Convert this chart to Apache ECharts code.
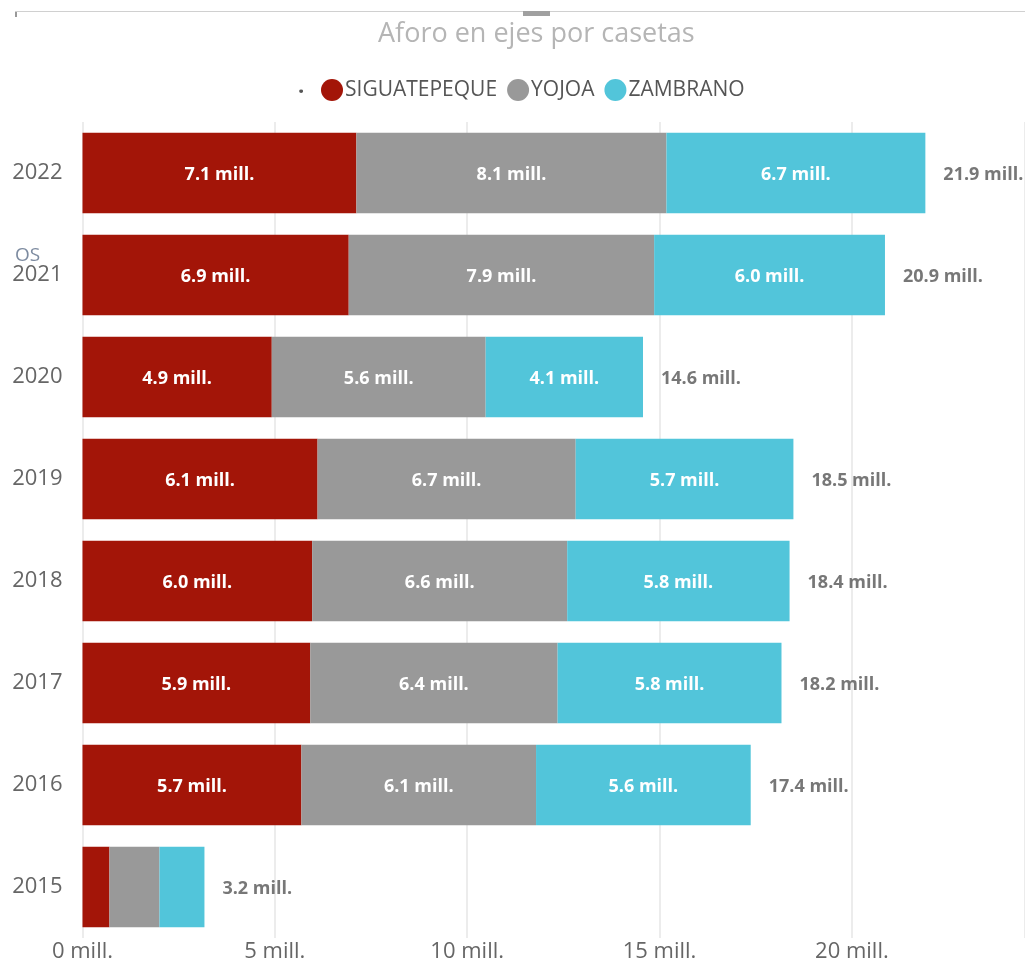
<!DOCTYPE html>
<html>
<head>
<meta charset="utf-8">
<script src="https://cdn.jsdelivr.net/npm/echarts@6/dist/echarts.min.js"></script>
<style>html,body{margin:0;padding:0;background:#fff;}#c{width:1025px;height:963px;}</style>
</head>
<body>
<div id="c"></div>
<script>
const years = ['2015', '2016', '2017', '2018', '2019', '2020', '2021', '2022'];
const siguatepeque = [0.7, 5.69, 5.92, 5.97, 6.11, 4.92, 6.92, 7.12];
const yojoa = [1.3, 6.1, 6.43, 6.63, 6.71, 5.56, 7.94, 8.06];
const zambrano = [1.17, 5.58, 5.82, 5.78, 5.66, 4.09, 6.0, 6.73];
const xTicks = [0, 5, 10, 15, 20];

const totals = years.map((y, i) => siguatepeque[i] + yojoa[i] + zambrano[i]);
const fmt = v => v.toFixed(1) + ' mill.';
const FONT = '"Open Sans", "Noto Sans", sans-serif';

const inLabel = {
  show: true, position: 'inside', color: '#fff', fontWeight: 'bold',
  fontSize: 18, fontFamily: FONT, offset: [0, 2],
  formatter: p => fmt(p.value)
};
function barSeries(name, data, color) {
  return {
    name, type: 'bar', stack: 'total', barWidth: '79%',
    data: data.map((v, i) => i === 0 ? { value: v, label: { show: false } } : v),
    itemStyle: { color },
    label: inLabel,
    emphasis: { disabled: true }
  };
}
const chart = echarts.init(document.getElementById('c'));
chart.setOption({
  animation: false,
  title: {
    text: 'Aforo en ejes por casetas', left: 373, top: 16,
    textStyle: { color: '#b5b5b5', fontWeight: 'normal', fontSize: 27, fontFamily: FONT }
  },
  legend: {
    data: ['SIGUATEPEQUE', 'YOJOA', 'ZAMBRANO'],
    top: 74, left: 316, icon: 'circle', itemWidth: 22, itemHeight: 22, itemGap: 10,
    textStyle: { color: '#555', fontSize: 21, fontFamily: FONT, padding: [2, 0, 0, -3] }
  },
  graphic: [
    { type: 'rect', shape: { x: 15, y: 11, width: 1010, height: 1 }, style: { fill: '#d0d0d0' } },
    { type: 'rect', shape: { x: 15, y: 12, width: 2, height: 5 }, style: { fill: '#999' } },
    { type: 'rect', shape: { x: 523, y: 11, width: 27, height: 5 }, style: { fill: '#a0a0a0' } },
    { type: 'text', left: 298, top: 76, style: { text: '.', fill: '#555', font: 'bold 22px ' + FONT } },
    { type: 'text', left: 15, top: 246, style: { text: 'OS', fill: '#7d8ba0', font: '19px ' + FONT } }
  ],
  grid: { left: 82.5, right: -1, top: 122, bottom: 17, containLabel: false },
  xAxis: {
    type: 'value', min: 0, max: 24.5, interval: 5,
    axisLine: { show: false }, axisTick: { show: false },
    splitLine: { lineStyle: { color: '#ececec', width: 2 } },
    axisLabel: {
      color: '#666', fontSize: 22, fontFamily: FONT, margin: 3, showMaxLabel: false,
      formatter: v => xTicks.includes(v) ? v + ' mill.' : ''
    }
  },
  yAxis: {
    type: 'category', data: years,
    axisLine: { show: false }, axisTick: { show: false },
    axisLabel: { color: '#666', fontSize: 22, fontFamily: FONT, margin: 20, padding: [5, 0, 0, 0] }
  },
  series: [
    barSeries('SIGUATEPEQUE', siguatepeque, '#A31508'),
    barSeries('YOJOA', yojoa, '#999999'),
    barSeries('ZAMBRANO', zambrano, '#52C5DA'),
    {
      name: 'total', type: 'scatter', symbolSize: 0,
      data: totals.map((t, i) => [t, years[i]]),
      label: {
        show: true, position: 'right', distance: 18, color: '#555', fontWeight: 'bold',
        fontSize: 18, fontFamily: FONT, offset: [0, 2], formatter: p => fmt(p.value[0])
      },
      emphasis: { disabled: true }, z: 5
    }
  ]
});
</script>
</body>
</html>
